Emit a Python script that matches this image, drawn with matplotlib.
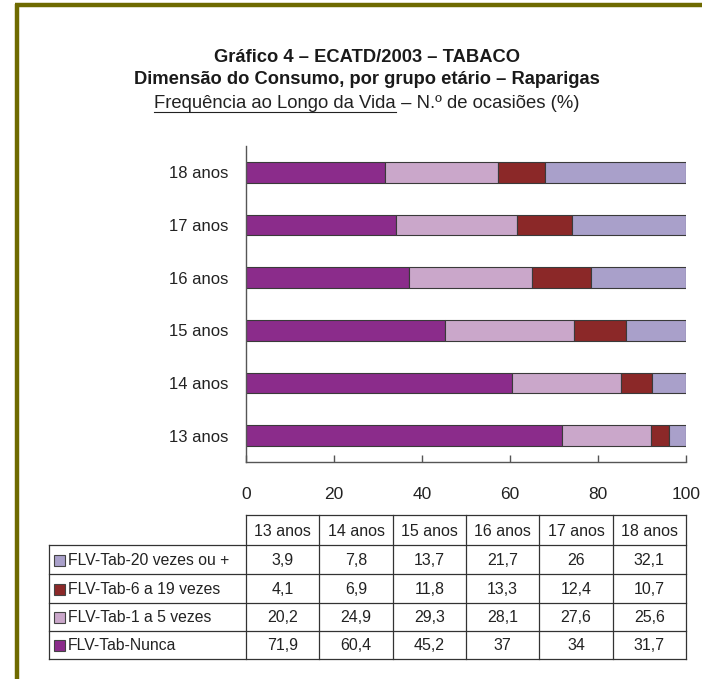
import matplotlib
matplotlib.use("Agg")
import matplotlib.pyplot as plt
from matplotlib.patches import Rectangle
from matplotlib.lines import Line2D

plt.rcParams['font.family'] = ['Liberation Sans', 'DejaVu Sans']

categories = ["13 anos", "14 anos", "15 anos", "16 anos", "17 anos", "18 anos"]
series_names = ["FLV-Tab-Nunca", "FLV-Tab-1 a 5 vezes", "FLV-Tab-6 a 19 vezes", "FLV-Tab-20 vezes ou +"]
nunca = [71.9, 60.4, 45.2, 37, 34, 31.7]
v1a5 = [20.2, 24.9, 29.3, 28.1, 27.6, 25.6]
v6a19 = [4.1, 6.9, 11.8, 13.3, 12.4, 10.7]
v20 = [3.9, 7.8, 13.7, 21.7, 26, 32.1]
colors = ["#8B2C8B", "#CAA7CA", "#8B2828", "#A9A0CA"]
x_ticks = [0, 20, 40, 60, 80, 100]

series = [nunca, v1a5, v6a19, v20]

W, H = 702, 679
fig = plt.figure(figsize=(W / 100, H / 100), dpi=100)

# chart axes
ax_l, ax_r, ax_t, ax_b = 246, 686, 146, 462
ax = fig.add_axes([ax_l / W, 1 - ax_b / H, (ax_r - ax_l) / W, (ax_b - ax_t) / H])
ypos = list(range(len(categories)))
left = [0] * len(categories)
for vals, col, name in zip(series, colors, series_names):
    ax.barh(ypos, vals, left=left, height=0.39, color=col, edgecolor="#3a3a3a",
            linewidth=0.8, label=name)
    left = [a + b for a, b in zip(left, vals)]
ax.set_xlim(0, 100)
ax.set_ylim(-0.5, len(categories) - 0.5)
ax.set_yticks(ypos)
ax.set_yticklabels(categories, fontsize=12, color="#222222")
ax.set_xticks(x_ticks)
ax.set_xticklabels([str(t) for t in x_ticks], fontsize=12.5, color="#222222")
for s in ["top", "right"]:
    ax.spines[s].set_visible(False)
for s in ["left", "bottom"]:
    ax.spines[s].set_color("#555555")
    ax.spines[s].set_linewidth(1.0)
ax.tick_params(axis="y", length=0, pad=13)
ax.tick_params(axis="x", direction="in", length=5, width=1.0, color="#555555", pad=18)

# overlay axes in pixel coords
ov = fig.add_axes([0, 0, 1, 1])
ov.set_xlim(0, W)
ov.set_ylim(H, 0)
ov.axis("off")
ov.patch.set_alpha(0)

olive = "#6E6A00"
ov.add_line(Line2D([15, W], [5, 5], color=olive, linewidth=3.2, solid_capstyle="butt"))
ov.add_line(Line2D([17, 17], [4, H], color=olive, linewidth=3.2, solid_capstyle="butt"))

# titles
cx = 367
ov.text(cx, 58, "Gráfico 4 – ECATD/2003 – TABACO", ha="center", va="center",
        fontsize=13.2, fontweight="bold", color="#1a1a1a")
ov.text(cx, 80, "Dimensão do Consumo, por grupo etário – Raparigas", ha="center", va="center",
        fontsize=13.2, fontweight="bold", color="#1a1a1a")
part1 = "Frequência ao Longo da Vida"
part2 = " – N.º de ocasiões (%)"
t1 = ov.text(0, 103, part1, ha="left", va="center", fontsize=13.3, color="#222222")
t2 = ov.text(0, 103, part2, ha="left", va="center", fontsize=13.3, color="#222222")
fig.canvas.draw()
r = fig.canvas.get_renderer()
w1 = t1.get_window_extent(r).width
w2 = t2.get_window_extent(r).width
x0 = cx - (w1 + w2) / 2
t1.set_x(x0)
t2.set_x(x0 + w1)
ov.add_line(Line2D([x0, x0 + w1], [112, 112], color="#222222", linewidth=0.8))

# table
tab_left = 49
col_edges = [ax_l + (ax_r - ax_l) * i / len(categories) for i in range(len(categories) + 1)]
hdr_top, hdr_bot = 515, 545
row_edges = [545, 574, 603, 631, 659]
lc = "#333333"
lw = 0.9
ov.add_line(Line2D([col_edges[0], col_edges[-1]], [hdr_top, hdr_top], color=lc, lw=lw))
for xe in col_edges:
    ov.add_line(Line2D([xe, xe], [hdr_top, row_edges[-1]], color=lc, lw=lw))
for ye in row_edges:
    ov.add_line(Line2D([tab_left, col_edges[-1]], [ye, ye], color=lc, lw=lw))
ov.add_line(Line2D([tab_left, tab_left], [row_edges[0], row_edges[-1]], color=lc, lw=lw))
for i, c in enumerate(categories):
    ov.text((col_edges[i] + col_edges[i + 1]) / 2, (hdr_top + hdr_bot) / 2 + 1, c,
            ha="center", va="center", fontsize=11.5, color="#222222")
order = [3, 2, 1, 0]
for ri, si in enumerate(order):
    yc = (row_edges[ri] + row_edges[ri + 1]) / 2 + 1
    ov.add_patch(Rectangle((54, yc - 6), 11, 11, facecolor=colors[si], edgecolor="#444444", lw=0.8))
    ov.text(68, yc, series_names[si], ha="left", va="center", fontsize=11.3, color="#222222")
    for ci, v in enumerate(series[si]):
        s = ("%g" % v).replace(".", ",")
        ov.text((col_edges[ci] + col_edges[ci + 1]) / 2, yc, s, ha="center", va="center",
                fontsize=11.5, color="#222222")

fig.savefig("out.png", dpi=100)
